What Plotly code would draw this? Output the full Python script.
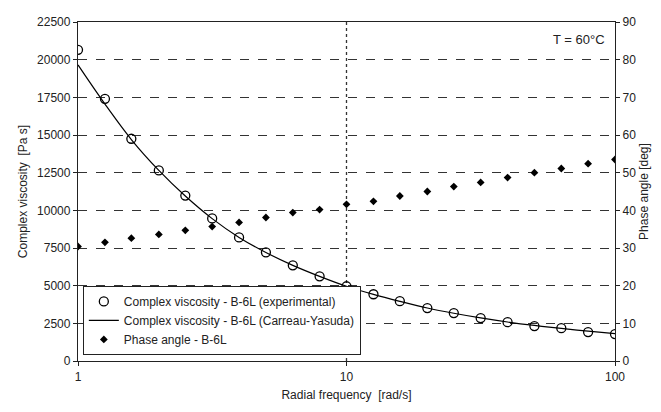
import plotly.graph_objects as go

# Radial frequency [rad/s], five points per decade
frequency = [1.0, 1.26, 1.58, 2.0, 2.51, 3.16, 3.98, 5.01, 6.31, 7.94, 10.0,
             12.6, 15.8, 20.0, 25.1, 31.6, 39.8, 50.1, 63.1, 79.4, 100.0]

# Complex viscosity, experimental [Pa s]
viscosity_exp = [20650, 17400, 14750, 12650, 10980, 9460, 8200, 7210, 6350, 5620, 4960,
                 4430, 3970, 3510, 3180, 2850, 2580, 2320, 2180, 1920, 1790]

# Complex viscosity, Carreau-Yasuda fit [Pa s]
viscosity_fit = [19650, 17050, 14700, 12650, 10950, 9450, 8200, 7200, 6350, 5620, 4960,
                 4420, 3960, 3520, 3170, 2860, 2590, 2360, 2160, 1980, 1820]

# Phase angle [deg]
phase_angle = [30.4, 31.5, 32.6, 33.6, 34.7, 35.7, 36.8, 38.1, 39.4, 40.2, 41.6,
               42.4, 43.8, 45.0, 46.3, 47.4, 48.7, 50.0, 51.1, 52.4, 53.5]

visc_ticks = [0, 2500, 5000, 7500, 10000, 12500, 15000, 17500, 20000, 22500]
phase_ticks = [0, 10, 20, 30, 40, 50, 60, 70, 80, 90]
freq_ticks = [1, 10, 100]

FONT = "Liberation Sans, Arial, sans-serif"

fig = go.Figure()

fig.add_trace(go.Scatter(
    x=frequency, y=viscosity_exp, mode="markers",
    name="Complex viscosity - B-6L (experimental)",
    marker=dict(symbol="circle-open", size=9, color="black", line=dict(width=1.3)),
))
fig.add_trace(go.Scatter(
    x=frequency, y=viscosity_fit, mode="lines", line_shape="spline",
    name="Complex viscosity - B-6L (Carreau-Yasuda)",
    line=dict(color="black", width=1.2),
))
fig.add_trace(go.Scatter(
    x=frequency, y=phase_angle, mode="markers", yaxis="y2",
    name="Phase angle - B-6L",
    marker=dict(symbol="diamond", size=6, color="black"),
))

# Vertical reference line at 10 rad/s
fig.add_shape(type="line", xref="x", yref="paper", x0=10, x1=10, y0=0, y1=1,
              line=dict(color="#333333", width=1.3, dash="dot"), layer="below")

fig.add_annotation(x=0.985, y=0.975, xref="paper", yref="paper",
                   xanchor="right", yanchor="top", text="T = 60°C",
                   showarrow=False, font=dict(family=FONT, size=13, color="#222"))

fig.update_layout(
    width=661, height=412,
    margin=dict(l=78, r=43, t=22, b=50),
    paper_bgcolor="white", plot_bgcolor="white",
    font=dict(family=FONT, size=12, color="#222"),
    showlegend=True,
    legend=dict(x=0.009, y=0.018, xanchor="left", yanchor="bottom",
                bgcolor="white", bordercolor="#222", borderwidth=1,
                font=dict(family=FONT, size=12, color="#222"),
                tracegroupgap=0, itemwidth=30),
    xaxis=dict(type="log", range=[0, 2], tickvals=freq_ticks,
               ticktext=[str(v) for v in freq_ticks],
               showgrid=False, showline=True, linecolor="#222", linewidth=1.3,
               mirror=True, ticks="outside", ticklen=4, tickcolor="#222",
               zeroline=False,
               title=dict(text="Radial frequency  [rad/s]", standoff=8,
                          font=dict(size=12))),
    yaxis=dict(range=[0, 22500], tickvals=visc_ticks,
               ticktext=[str(v) for v in visc_ticks],
               showgrid=True, gridcolor="#333333", griddash="dash", gridwidth=1,
               showline=True, linecolor="#222", linewidth=1.3,
               ticks="outside", ticklen=4, tickcolor="#222", zeroline=False,
               title=dict(text="Complex viscosity  [Pa s]", standoff=6,
                          font=dict(size=12))),
    yaxis2=dict(range=[0, 90], tickvals=phase_ticks, overlaying="y", side="right",
                showgrid=False, showline=True, linecolor="#222", linewidth=1.3,
                ticks="outside", ticklen=4, tickcolor="#222", zeroline=False,
                title=dict(text="Phase angle [deg]", standoff=4,
                           font=dict(size=12))),
)

fig.write_html("out.html")
